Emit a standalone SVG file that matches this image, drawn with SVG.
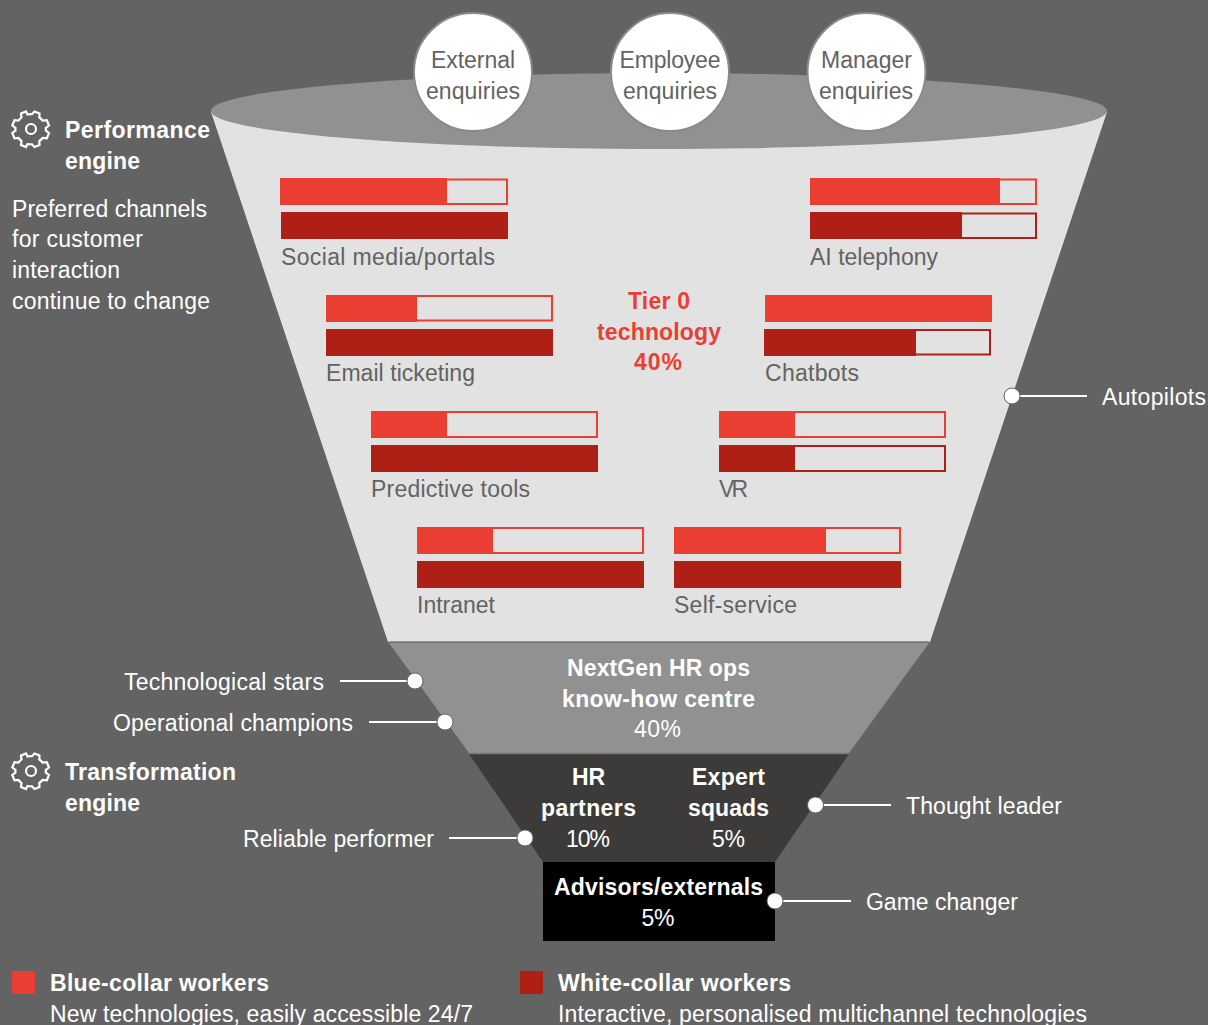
<svg xmlns="http://www.w3.org/2000/svg" width="1208" height="1025" viewBox="0 0 1208 1025">
<style>
text{font-family:"Liberation Sans",Arial,sans-serif;font-size:23px}
.b{font-weight:700}
.w{fill:#fff}.g{fill:#636363}.m{text-anchor:middle}
.t{fill:#eb3e33}
.r{fill:#eb3e33}.d{fill:#ae1f15}
.ro{fill:none;stroke:#eb3e33;stroke-width:2}
.do{fill:none;stroke:#ae1f15;stroke-width:2}
.gear{fill:none;stroke:#fff;stroke-width:2.200}
.lead{stroke:#fff;stroke-width:2;fill:none}
.dot{fill:#fff;stroke:#636363;stroke-width:1}
.circ{fill:#fff;stroke:#8a8a8a;stroke-width:2}
</style>
<defs>
<g id="gear-shape">
<path class="gear" d="M-5-17.500L-3.500-14.500C-1-15-1-15 1-14.800L3.500-17.500 8.500-15.500 8.300-11.500C10-10.300 10.300-10 11.500-8.500L15.800-8.800 18-3.500 14.800-1C15-.3 15 .5 14.800 1.500L18 4 15.800 9.300 11.500 9C10.300 10.500 10 10.800 8.300 12L8.500 16 3.500 18 1 15.300C-1 15.500-1 15.500-3.500 15L-5 18-10 16-9.500 12C-11 10.800-11.300 10.500-12.500 9L-16.500 9.300-18.700 4-15.500 1.500C-15.700 .5-15.700-.3-15.500-1L-18.700-3.500-16.500-8.800-12.500-8.500C-11.300-10-11-10.300-9.500-11.500L-10-15.500Z"/>
<circle class="gear" cx="0" cy="0" r="5"/>
</g>
</defs>
<rect width="1208" height="1025" fill="#636363"/>
<g id="funnel">
<path fill="#e2e2e2" d="M211 112L388 642H930L1107 112Z"/>
<ellipse cx="659" cy="111" rx="448" ry="38" fill="#919191"/>
<path fill="#919191" d="M389 643H929L849 753H469Z"/>
<path fill="#3c3b39" d="M469 754H849L775 862H543Z"/>
<rect x="543" y="862" width="232" height="79" fill="#000"/>
<path stroke="#7a7a7a" stroke-width="1.500" d="M389 642H929M469 753.500H849"/>
</g>
<g id="enq-external"><circle class="circ" cx="473" cy="72" r="59"/><text class="g m" x="473" y="68" textLength="84">External</text><text class="g m" x="473" y="99" textLength="94">enquiries</text></g>
<g id="enq-employee"><circle class="circ" cx="670" cy="72" r="59"/><text class="g m" x="670" y="68" textLength="101">Employee</text><text class="g m" x="670" y="99" textLength="94">enquiries</text></g>
<g id="enq-manager"><circle class="circ" cx="866.500" cy="72" r="59"/><text class="g m" x="866.500" y="68" textLength="91">Manager</text><text class="g m" x="866" y="99" textLength="94">enquiries</text></g>
<g id="social"><rect class="ro" x="281" y="179.500" width="226" height="24.500"/><rect class="r" x="280" y="178" width="167" height="27"/><rect class="d" x="281" y="212" width="227" height="27"/><text class="g" x="281" y="265" textLength="214">Social media/portals</text></g>
<g id="ai"><rect class="ro" x="811" y="179.500" width="225" height="24.500"/><rect class="r" x="810" y="178" width="190" height="27"/><rect class="do" x="811" y="213.500" width="225" height="24.500"/><rect class="d" x="810" y="212" width="152" height="27"/><text class="g" x="810" y="265" textLength="128">AI telephony</text></g>
<g id="email"><rect class="ro" x="327" y="296" width="225" height="24.500"/><rect class="r" x="326" y="295" width="91" height="27"/><rect class="d" x="326" y="329" width="227" height="27"/><text class="g" x="326" y="381" textLength="149">Email ticketing</text></g>
<g id="chatbots"><rect class="r" x="765" y="295" width="227" height="27"/><rect class="do" x="765" y="330" width="225" height="24.500"/><rect class="d" x="764" y="329" width="152" height="27"/><text class="g" x="765" y="381" textLength="94">Chatbots</text></g>
<g id="predictive"><rect class="ro" x="372" y="412" width="225" height="25"/><rect class="r" x="371" y="411" width="76" height="27"/><rect class="d" x="371" y="445" width="227" height="27"/><text class="g" x="371" y="497" textLength="159">Predictive tools</text></g>
<g id="vr"><rect class="ro" x="720" y="412" width="225" height="25"/><rect class="r" x="719" y="411" width="76" height="27"/><rect class="do" x="720" y="446" width="225" height="25"/><rect class="d" x="719" y="445" width="76" height="27"/><text class="g" x="719" y="497" textLength="29">VR</text></g>
<g id="intranet"><rect class="ro" x="418" y="528" width="225" height="25"/><rect class="r" x="417" y="527" width="76" height="27"/><rect class="d" x="417" y="561" width="227" height="27"/><text class="g" x="417" y="613" textLength="78">Intranet</text></g>
<g id="selfservice"><rect class="ro" x="675" y="528" width="225" height="25"/><rect class="r" x="674" y="527" width="152" height="27"/><rect class="d" x="674" y="561" width="227" height="27"/><text class="g" x="674" y="613" textLength="123">Self-service</text></g>
<g id="tier0"><text class="b m t" x="659" y="309" textLength="62">Tier 0</text><text class="b m t" x="659" y="340" textLength="124">technology</text><text class="b m t" x="658" y="370" textLength="48">40%</text></g>
<g id="performance"><use href="#gear-shape" x="31" y="129"/><text class="b w" x="65" y="138" textLength="145">Performance</text><text class="b w" x="65" y="169" textLength="75">engine</text>
<text class="w" x="12" y="217" textLength="195">Preferred channels</text><text class="w" x="12" y="247" textLength="131">for customer</text><text class="w" x="12" y="278" textLength="108">interaction</text><text class="w" x="12" y="309" textLength="198">continue to change</text></g>
<g id="transformation"><use href="#gear-shape" x="31" y="771"/><text class="b w" x="65" y="780" textLength="171">Transformation</text><text class="b w" x="65" y="811" textLength="75">engine</text></g>
<g id="nextgen"><text class="b w m" x="658.500" y="676" textLength="183">NextGen HR ops</text><text class="b w m" x="658.500" y="707" textLength="193">know-how centre</text><text class="w m" x="657.500" y="737" textLength="47">40%</text></g>
<g id="hrpartners"><text class="b w m" x="588.500" y="785" textLength="33">HR</text><text class="b w m" x="588.500" y="816" textLength="95">partners</text><text class="w m" x="588" y="847" textLength="44">10%</text></g>
<g id="expert"><text class="b w m" x="728.500" y="785" textLength="73">Expert</text><text class="b w m" x="728.500" y="816" textLength="81">squads</text><text class="w m" x="728.500" y="847" textLength="33">5%</text></g>
<g id="advisors"><text class="b w m" x="658.500" y="895" textLength="209">Advisors/externals</text><text class="w m" x="658" y="926" textLength="33">5%</text></g>
<g id="connectors">
<path class="lead" d="M1012 396H1087M340 681H415M369 722H445M449 838H525M815 805H891M775 901H851"/>
<circle class="dot" cx="1012" cy="396" r="8"/><circle class="dot" cx="415" cy="681" r="8"/><circle class="dot" cx="445" cy="722" r="8"/><circle class="dot" cx="525" cy="838" r="8"/><circle class="dot" cx="815.500" cy="805" r="8"/><circle class="dot" cx="775" cy="901" r="8"/>
</g>
<g id="labels">
<text class="w" x="1102" y="405" textLength="104">Autopilots</text><text class="w" x="124" y="690" textLength="200">Technological stars</text><text class="w" x="113" y="731" textLength="240">Operational champions</text><text class="w" x="243" y="847" textLength="191">Reliable performer</text><text class="w" x="906" y="814" textLength="156">Thought leader</text><text class="w" x="866" y="910" textLength="152">Game changer</text>
</g>
<g id="legend-blue"><rect class="r" x="12" y="971" width="23" height="23"/><text class="b w" x="50" y="991" textLength="219">Blue-collar workers</text><text class="w" x="50" y="1022" textLength="423">New technologies, easily accessible 24/7</text></g>
<g id="legend-white"><rect class="d" x="520" y="971" width="23" height="23"/><text class="b w" x="558" y="991" textLength="233">White-collar workers</text><text class="w" x="558" y="1022" textLength="529">Interactive, personalised multichannel technologies</text></g>
</svg>
